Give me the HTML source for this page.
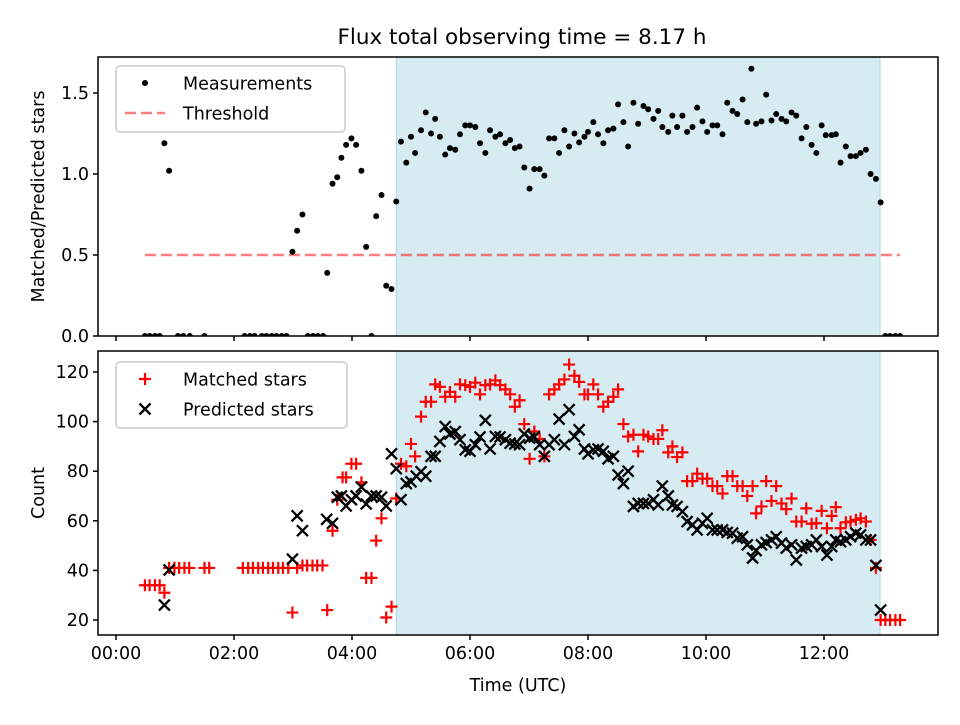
<!DOCTYPE html>
<html><head><meta charset="utf-8"><style>
body{margin:0;background:#fff;}
svg text{font-family:"DejaVu Sans","Liberation Sans",sans-serif;fill:#000;}
</style></head><body>
<svg id="chart" width="960" height="720" viewBox="0 0 960 720" xmlns="http://www.w3.org/2000/svg">
<text x="522" y="44" font-size="21.5" text-anchor="middle">Flux total observing time = 8.17 h</text>
<g id="top"></g>
<g id="bot"></g>
</svg>
<script>
// ---- data ----
const ratioTimes = [0.49,0.57,0.66,0.74,0.82,0.90,1.05,1.14,1.25,1.50,2.18,2.27,2.35,2.47,2.55,2.64,2.72,2.81,2.89,2.99,3.07,3.16,3.25,3.34,3.42,3.51,3.58,3.67,3.75,3.82,3.90,3.99,4.07,4.16,4.24,4.33,4.41,4.50,4.58,4.67,4.75,4.83,4.92,5.00,5.07,5.17,5.25,5.34,5.41,5.49,5.58,5.66,5.75,5.83,5.92,6.00,6.09,6.17,6.26,6.34,6.43,6.51,6.60,6.68,6.76,6.84,6.92,7.01,7.09,7.18,7.26,7.34,7.43,7.51,7.60,7.68,7.77,7.85,7.94,8.00,8.09,8.17,8.26,8.34,8.43,8.51,8.60,8.68,8.77,8.85,8.94,9.02,9.11,9.19,9.26,9.36,9.43,9.51,9.60,9.68,9.77,9.85,9.94,10.02,10.11,10.19,10.28,10.36,10.45,10.53,10.62,10.70,10.77,10.85,10.94,11.02,11.11,11.19,11.28,11.36,11.45,11.53,11.62,11.70,11.79,11.87,11.96,12.03,12.13,12.20,12.28,12.37,12.45,12.54,12.62,12.71,12.79,12.88,12.96,13.04,13.12,13.21,13.29];
const ratioValues = [0,0,0,0,1.19,1.02,0,0,0,0,0,0,0,0,0,0,0,0,0,0.52,0.65,0.75,0,0,0,0,0.39,0.94,0.98,1.10,1.18,1.22,1.18,1.02,0.55,0,0.74,0.87,0.31,0.29,0.83,1.20,1.07,1.23,1.13,1.27,1.38,1.25,1.34,1.23,1.12,1.16,1.15,1.245,1.30,1.30,1.29,1.19,1.13,1.27,1.23,1.245,1.19,1.21,1.16,1.17,1.04,0.91,1.03,1.03,0.99,1.22,1.22,1.13,1.27,1.17,1.25,1.195,1.23,1.26,1.32,1.245,1.19,1.27,1.28,1.43,1.32,1.17,1.44,1.31,1.42,1.40,1.34,1.39,1.29,1.26,1.36,1.29,1.36,1.26,1.29,1.41,1.325,1.26,1.30,1.30,1.245,1.44,1.39,1.37,1.46,1.32,1.65,1.31,1.325,1.49,1.33,1.37,1.34,1.325,1.38,1.36,1.22,1.29,1.18,1.13,1.30,1.24,1.24,1.245,1.07,1.17,1.11,1.11,1.13,1.15,1.00,0.97,0.825,0,0,0,0];
const thresholdValue = 0.5;
const thresholdRange = [0.49, 13.29];
const windowRange = [4.75, 12.95];

const matchedTimes = [0.49,0.57,0.66,0.74,0.82,0.90,0.99,1.07,1.16,1.24,1.50,1.58,2.15,2.24,2.32,2.41,2.49,2.58,2.66,2.75,2.83,2.92,2.99,3.07,3.16,3.24,3.33,3.41,3.50,3.58,3.67,3.75,3.84,3.90,3.99,4.07,4.16,4.24,4.33,4.41,4.50,4.58,4.67,4.75,4.83,4.92,5.00,5.07,5.17,5.25,5.34,5.41,5.49,5.58,5.66,5.75,5.83,5.92,6.00,6.09,6.17,6.26,6.34,6.43,6.51,6.60,6.68,6.76,6.84,6.92,7.01,7.09,7.18,7.26,7.34,7.43,7.51,7.60,7.68,7.77,7.85,7.94,8.00,8.09,8.17,8.26,8.34,8.43,8.51,8.60,8.68,8.77,8.85,8.94,9.02,9.11,9.19,9.26,9.36,9.43,9.51,9.60,9.68,9.77,9.85,9.94,10.02,10.11,10.19,10.28,10.36,10.45,10.53,10.62,10.70,10.79,10.85,10.94,11.02,11.11,11.19,11.28,11.36,11.45,11.53,11.62,11.70,11.79,11.87,11.96,12.05,12.13,12.20,12.28,12.37,12.45,12.54,12.62,12.71,12.79,12.88,12.96,13.04,13.12,13.21,13.29];
const matchedValues = [34,34,34,34,31,41,41,41,41,41,41,41,41,41,41,41,41,41,41,41,41,41,23,41,42,42,42,42,42,24,56,68.5,77.5,77.5,83,83,75.5,37,37,52,61,21,25.4,69,83,82,91,86,102,108,108,115,114,110,112,110,115,114.7,114,115.7,111,114.7,115,116.6,114.7,113,111,106,108.6,99,85,96,93,86,111,113,115,117,123,118.5,116,111,111,115,111,106,108,110,113,99,94,94.7,88,94.7,94,93,93,96.5,87.6,90,85.7,87.6,76,76,79,77,77,74,74,71,78,78,74,74,70,74,63,65.8,76,68,74,67,64.7,69,59.7,59.7,65,58.8,59,64,57,62,65.5,57,59.4,59.7,60.4,61,59.7,52.3,41,20,20,20,20,20];

const predictedTimes = [0.82,0.90,2.99,3.07,3.16,3.57,3.67,3.75,3.82,3.90,3.99,4.07,4.16,4.24,4.33,4.41,4.50,4.58,4.67,4.75,4.83,4.92,5.00,5.09,5.17,5.25,5.34,5.41,5.49,5.58,5.66,5.75,5.83,5.92,6.00,6.09,6.17,6.26,6.34,6.43,6.51,6.60,6.68,6.76,6.84,6.92,7.01,7.09,7.18,7.26,7.34,7.43,7.51,7.60,7.68,7.77,7.85,7.94,8.00,8.09,8.17,8.26,8.34,8.43,8.51,8.60,8.68,8.77,8.85,8.94,9.02,9.11,9.19,9.26,9.36,9.43,9.51,9.60,9.68,9.77,9.85,9.94,10.02,10.11,10.19,10.28,10.36,10.45,10.53,10.62,10.70,10.79,10.85,10.94,11.02,11.11,11.19,11.28,11.36,11.45,11.53,11.62,11.70,11.79,11.87,11.96,12.05,12.13,12.20,12.28,12.37,12.45,12.54,12.62,12.71,12.79,12.88,12.96];
const predictedValues = [26,40.2,44.5,62,56,60.6,59,69.5,70,66,68.5,70,73.6,66.8,70,70,69.5,66,87,81,68.5,75,75.7,78,79.8,78,86,86,92,98,95,96,92.7,88.6,88,90.7,93.8,100.5,89,94,93.8,92.7,91.3,91,90.7,95,93.3,93.8,90.7,86,90.7,92.7,101,90.7,104.8,94,96.7,89,87,88.6,89,88,85,86,78.5,75,80,65.8,67,67,67,68.5,66.4,74,70,66.4,65.8,63.7,59.7,58.4,56.3,59,61,56.3,56.3,56.3,55.3,55,53,53.6,50.3,45,48,50.3,51.2,52.3,53.6,51,49,50.3,44.2,49,49.6,50.3,52.3,49.6,46.2,49.6,52.3,51.6,52.3,53.6,55,54.3,52.3,52.3,42,24];

const xTickHours = [0,2,4,6,8,10,12];
const xTickLabels = ["00:00","02:00","04:00","06:00","08:00","10:00","12:00"];
const topTicks = [0,0.5,1.0,1.5];
const topTickLabels = ["0.0","0.5","1.0","1.5"];
const botTicks = [20,40,60,80,100,120];

// ---- geometry ----
const L=98,R=938, T1=57,B1=336, T2=351,B2=635;
const X = h => 116 + h*59;
const Y1 = v => 336 - v*162;
const Y2 = v => 620 - (v-20)*2.48;
const FS = 17.5;
const NS="http://www.w3.org/2000/svg";
function mk(tag, attrs, parent){const e=document.createElementNS(NS,tag);for(const k in attrs)e.setAttribute(k,attrs[k]);parent.appendChild(e);return e;}

function panel(g, top, bot, clipId){
  const d=mk('defs',{},g);
  const cp=mk('clipPath',{id:clipId},d);
  mk('rect',{x:L,y:top,width:R-L,height:bot-top},cp);
  const sh=mk('rect',{x:X(windowRange[0]),y:top,width:X(windowRange[1])-X(windowRange[0]),height:bot-top,fill:'#add8e6','fill-opacity':0.5,stroke:'#add8e6','stroke-width':1},g);
  
  
  const marks=mk('g',{'clip-path':'url(#'+clipId+')'},g);
  return marks;
}
function frame(g, top, bot, yt, yl, Yf, showX, yname){
  const f=mk('rect',{x:L,y:top,width:R-L,height:bot-top,fill:'none',stroke:'#000','stroke-width':1.5},g);
  
  
  yt.forEach((v,i)=>{
    const y=Yf(v);
    mk('line',{x1:L-5,x2:L,y1:y,y2:y,stroke:'#000','stroke-width':1.5},g);
    const t=mk('text',{x:L-9,y:y+6,'font-size':FS,'text-anchor':'end'},g);
    t.textContent=yl[i];
    
    
  });
  xTickHours.forEach((h,i)=>{
    const x=X(h);
    mk('line',{x1:x,x2:x,y1:bot,y2:bot+5,stroke:'#000','stroke-width':1.5},g);
    if(showX){
      const t=mk('text',{x:x,y:bot+24,'font-size':FS,'text-anchor':'middle'},g);
      t.textContent=xTickLabels[i];
      
      
    }
  });
  const yc=(top+bot)/2;
  const t=mk('text',{x:0,y:0,'font-size':FS,'text-anchor':'middle',transform:`translate(44,${yc}) rotate(-90)`},g);
  t.textContent=yname;
  
  
}
function plus(g,x,y){mk('path',{d:`M${x-6},${y}H${x+6}M${x},${y-6}V${y+6}`,stroke:'#ff0000','stroke-width':2.2,fill:'none'},g);}
function cross(g,x,y){mk('path',{d:`M${x-5.5},${y-5.5}L${x+5.5},${y+5.5}M${x-5.5},${y+5.5}L${x+5.5},${y-5.5}`,stroke:'#000','stroke-width':2.3,fill:'none'},g);}

// top panel
const gt=document.getElementById('top');
const mt=panel(gt,T1,B1,'c1');
const th=mk('line',{x1:X(thresholdRange[0]),x2:X(thresholdRange[1]),y1:Y1(thresholdValue),y2:Y1(thresholdValue),stroke:'#ff0000','stroke-opacity':0.5,'stroke-width':2.6,'stroke-dasharray':'11,5'},mt);


ratioTimes.forEach((h,i)=>{
  const c=mk('circle',{cx:X(h),cy:Y1(ratioValues[i]),r:3,fill:'#000'},mt);
  
  
});
frame(gt,T1,B1,topTicks,topTickLabels,Y1,false,'Matched/Predicted stars');

// bottom panel
const gb=document.getElementById('bot');
const mb=panel(gb,T2,B2,'c2');
matchedTimes.forEach((h,i)=>plus(mb,X(h),Y2(matchedValues[i])));
predictedTimes.forEach((h,i)=>cross(mb,X(h),Y2(predictedValues[i])));
frame(gb,T2,B2,botTicks,botTicks.map(String),Y2,true,'Count');
const xt=mk('text',{x:518,y:691,'font-size':FS,'text-anchor':'middle'},gb);
xt.textContent='Time (UTC)';



// legends
function legend(g,x,y,w,h,items){
  const lg=mk('g',{},g);
  
  
  mk('rect',{x:x,y:y,width:w,height:h,rx:4,fill:'#fff','fill-opacity':0.8,stroke:'#cccccc','stroke-width':1.5},lg);
  items.forEach((it,i)=>{
    const cy=y+17+i*30;
    it.draw(lg,x+29,cy);
    const t=mk('text',{x:x+67,y:cy+6.5,'font-size':FS},lg);
    t.textContent=it.label;
    
    
  });
}
legend(gt,116,66,229,66,[
  {label:'Measurements',draw:(g,x,y)=>mk('circle',{cx:x,cy:y,r:3,fill:'#000'},g)},
  {label:'Threshold',draw:(g,x,y)=>mk('line',{x1:x-20,x2:x+20,y1:y,y2:y,stroke:'#ff0000','stroke-opacity':0.5,'stroke-width':2.6,'stroke-dasharray':'11,5'},g)}
]);
legend(gb,116,362,231,66,[
  {label:'Matched stars',draw:(g,x,y)=>plus(g,x,y)},
  {label:'Predicted stars',draw:(g,x,y)=>cross(g,x,y)}
]);
</script>
</body></html>
